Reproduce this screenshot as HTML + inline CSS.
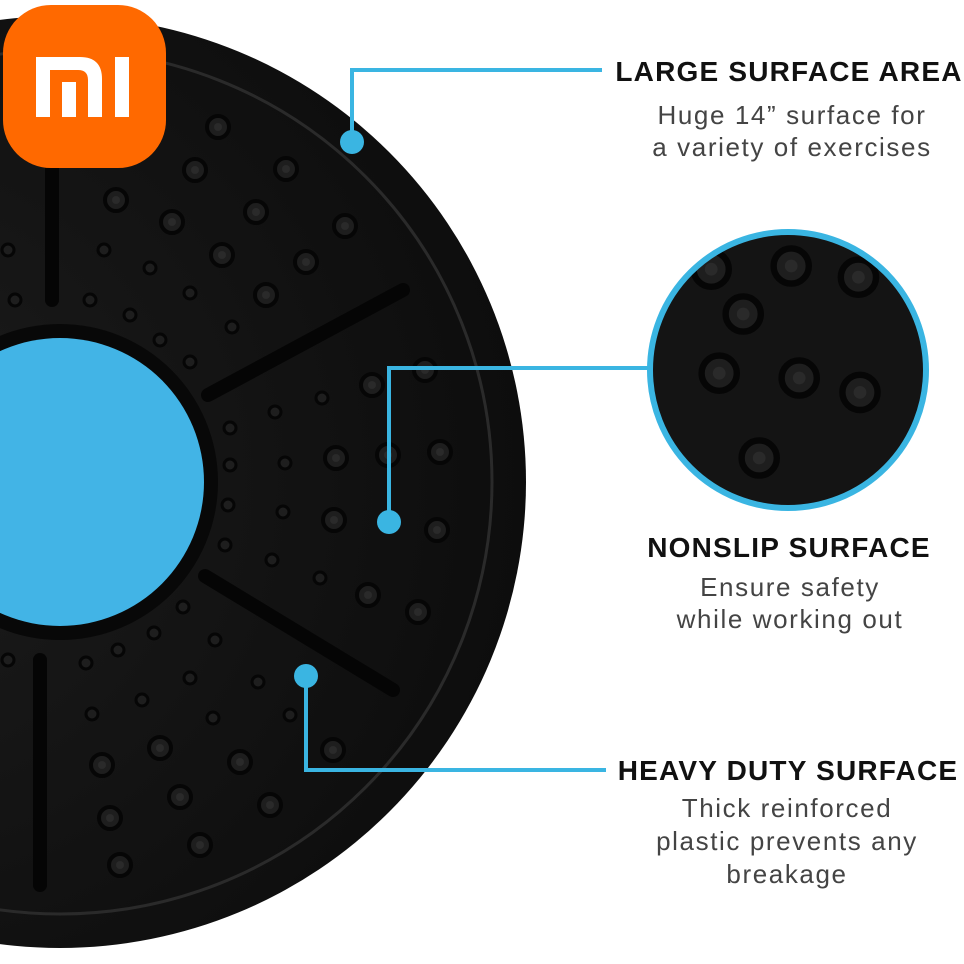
<!DOCTYPE html>
<html><head><meta charset="utf-8"><style>
html,body{margin:0;padding:0;background:#fff;}
svg{display:block}
text{font-family:"Liberation Sans",sans-serif;}
</style></head><body>
<svg width="964" height="964" viewBox="0 0 964 964" xmlns="http://www.w3.org/2000/svg">
<defs>
<radialGradient id="disc" cx="0.3" cy="0.5" r="0.7">
<stop offset="0" stop-color="#1c1c1c"/><stop offset="1" stop-color="#0d0d0d"/>
</radialGradient>
<g id="b"><circle r="11" fill="#1e1e1e" stroke="#060606" stroke-width="4"/><circle r="4" fill="#2a2a2a"/></g>
<g id="s"><circle r="6" fill="#1e1e1e" stroke="#060606" stroke-width="3"/></g>
<clipPath id="mag"><circle cx="788" cy="370" r="136"/></clipPath>
</defs>
<circle cx="60" cy="482" r="466" fill="url(#disc)"/>
<circle cx="60" cy="482" r="432" fill="none" stroke="#2a2a2a" stroke-width="3"/>
<circle cx="60" cy="482" r="158" fill="#080808"/>
<circle cx="60" cy="482" r="144" fill="#42b4e6"/>
<g stroke="#050505" stroke-width="14" stroke-linecap="round">
<line x1="208" y1="395" x2="403" y2="290"/>
<line x1="205" y1="576" x2="393" y2="690"/>
<line x1="52" y1="168" x2="52" y2="300"/>
<line x1="40" y1="660" x2="40" y2="885"/>
</g>
<g>
<use href="#b" x="218" y="127"/><use href="#b" x="286" y="169"/><use href="#b" x="195" y="170"/><use href="#b" x="345" y="226"/>
<use href="#b" x="256" y="212"/><use href="#b" x="306" y="262"/><use href="#b" x="116" y="200"/><use href="#b" x="172" y="222"/>
<use href="#b" x="222" y="255"/><use href="#b" x="266" y="295"/><use href="#b" x="425" y="370"/><use href="#b" x="440" y="452"/>
<use href="#b" x="437" y="530"/><use href="#b" x="418" y="612"/><use href="#b" x="372" y="385"/><use href="#b" x="388" y="455"/>
<use href="#b" x="368" y="595"/><use href="#b" x="333" y="750"/><use href="#b" x="270" y="805"/><use href="#b" x="200" y="845"/>
<use href="#b" x="120" y="865"/><use href="#b" x="180" y="797"/><use href="#b" x="110" y="818"/><use href="#b" x="240" y="762"/>
<use href="#b" x="160" y="748"/><use href="#b" x="102" y="765"/><use href="#b" x="336" y="458"/><use href="#b" x="334" y="520"/>
<use href="#s" x="104" y="250"/><use href="#s" x="150" y="268"/><use href="#s" x="190" y="293"/><use href="#s" x="232" y="327"/>
<use href="#s" x="90" y="300"/><use href="#s" x="130" y="315"/><use href="#s" x="160" y="340"/><use href="#s" x="190" y="362"/>
<use href="#s" x="15" y="300"/><use href="#s" x="275" y="412"/><use href="#s" x="322" y="398"/><use href="#s" x="230" y="428"/>
<use href="#s" x="285" y="463"/><use href="#s" x="230" y="465"/><use href="#s" x="283" y="512"/><use href="#s" x="228" y="505"/>
<use href="#s" x="272" y="560"/><use href="#s" x="225" y="545"/><use href="#s" x="320" y="578"/><use href="#s" x="183" y="607"/>
<use href="#s" x="215" y="640"/><use href="#s" x="258" y="682"/><use href="#s" x="154" y="633"/><use href="#s" x="190" y="678"/>
<use href="#s" x="118" y="650"/><use href="#s" x="142" y="700"/><use href="#s" x="86" y="663"/><use href="#s" x="92" y="714"/>
<use href="#s" x="213" y="718"/><use href="#s" x="290" y="715"/><use href="#s" x="8" y="660"/><use href="#s" x="8" y="250"/>
</g>
<rect x="3" y="5" width="163" height="163" rx="48" fill="#ff6900"/>
<path d="M36 57 H80 Q102 57 102 79 V117 H88 V80 Q88 70 78 70 H50 V117 H36 Z" fill="#fff"/>
<rect x="62" y="82" width="14" height="35" fill="#fff"/>
<rect x="115" y="57" width="14" height="60" fill="#fff"/>
<circle cx="788" cy="370" r="138" fill="#141414"/>
<g clip-path="url(#mag)">
<g transform="translate(788,370) scale(1.6) translate(-788,-370)">
<use href="#b" x="760" y="335"/><use href="#b" x="790" y="305"/><use href="#b" x="745" y="372"/><use href="#b" x="795" y="375"/>
<use href="#b" x="833" y="384"/><use href="#b" x="770" y="425"/><use href="#b" x="740" y="307"/><use href="#b" x="832" y="312"/>
</g></g>
<circle cx="788" cy="370" r="138" fill="none" stroke="#3ab5e2" stroke-width="6"/>
<g fill="none" stroke="#3ab5e2" stroke-width="4">
<polyline points="352,142 352,70 602,70"/>
<polyline points="389,522 389,368 652,368"/>
<polyline points="306,676 306,770 606,770"/>
</g>
<g fill="#3ab5e2"><circle cx="352" cy="142" r="12"/><circle cx="389" cy="522" r="12"/><circle cx="306" cy="676" r="12"/></g>
<g font-size="28" font-weight="bold" fill="#111" text-anchor="middle" letter-spacing="1.2">
<text x="789" y="81">LARGE SURFACE AREA</text>
<text x="789" y="557">NONSLIP SURFACE</text>
<text x="788" y="780">HEAVY DUTY SURFACE</text>
</g>
<g font-size="26" fill="#444" text-anchor="middle" letter-spacing="1.6">
<text x="792" y="124">Huge 14” surface for</text>
<text x="792" y="156">a variety of exercises</text>
<text x="790" y="596">Ensure safety</text>
<text x="790" y="628">while working out</text>
<text x="787" y="817">Thick reinforced</text>
<text x="787" y="850">plastic prevents any</text>
<text x="787" y="883">breakage</text>
</g>
</svg>
</body></html>
